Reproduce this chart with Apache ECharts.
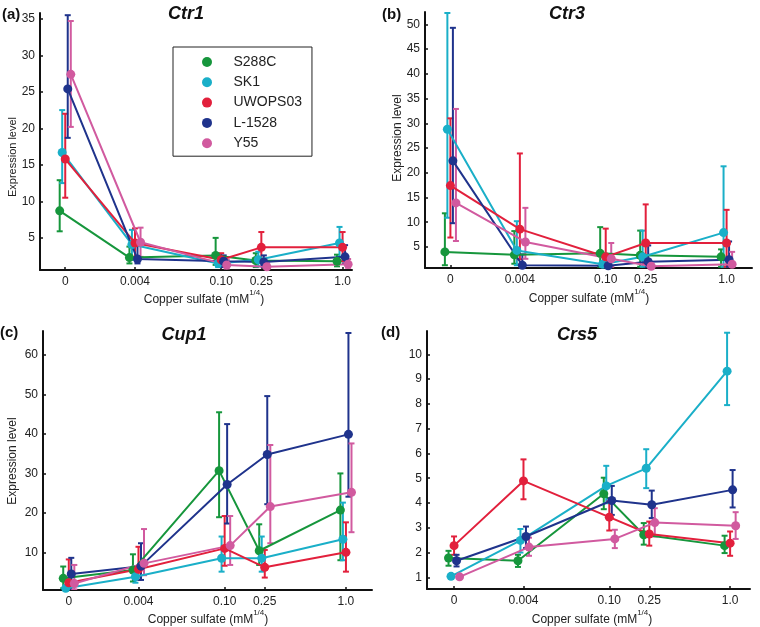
<!DOCTYPE html>
<html><head><meta charset="utf-8">
<script src="https://cdn.jsdelivr.net/npm/echarts@6/dist/echarts.min.js"></script>
<style>html,body{margin:0;padding:0;background:#fff}#c{width:760px;height:627px}</style>
</head><body><div id="c"></div>
<script>
// ---------- data ----------
const concentrations = [0, 0.004, 0.10, 0.25, 1.0];   // mM
const tickLabels = ['0', '0.004', '0.10', '0.25', '1.0'];
const strains = ['S288C', 'SK1', 'UWOPS03', 'L-1528', 'Y55'];
// each entry: [mean, lower, upper]
const ctr1_S288C   = [[8.7,5.9,12.9],[2.3,1.5,3.8],[2.6,1.3,5.0],[1.9,1.0,2.9],[1.8,1.1,2.7]];
const ctr1_SK1     = [[16.7,12.5,22.5],[4.1,2.0,6.1],[1.5,1.0,2.8],[2.0,1.1,3.1],[4.3,2.4,6.5]];
const ctr1_UWOPS03 = [[15.8,10.5,22.0],[4.3,2.4,6.3],[2.0,1.3,2.9],[3.7,1.8,5.8],[3.7,1.8,5.8]];
const ctr1_L1528   = [[25.4,18.7,35.5],[2.1,1.5,4.5],[1.8,1.0,2.6],[1.7,1.0,2.6],[2.4,1.5,4.0]];
const ctr1_Y55     = [[27.4,20.2,34.7],[4.4,2.4,6.4],[1.3,0.8,2.0],[1.05,0.8,1.5],[1.4,0.9,2.1]];

const ctr3_S288C   = [[4.0,1.3,11.8],[3.4,1.6,8.2],[3.7,1.0,9.0],[3.3,1.0,8.3],[3.0,1.0,4.5]];
const ctr3_SK1     = [[28.8,10.9,52.3],[4.3,1.3,10.2],[1.5,0.9,3.0],[3.0,1.0,8.3],[7.9,1.0,21.3]];
const ctr3_UWOPS03 = [[17.4,6.9,31.0],[8.6,2.5,23.9],[3.0,1.5,8.7],[5.8,1.7,13.6],[5.8,1.0,12.5]];
const ctr3_L1528   = [[22.4,9.8,49.3],[1.3,0.9,3.5],[1.2,0.9,3.0],[2.0,0.9,5.3],[2.4,1.0,6.1]];
const ctr3_Y55     = [[13.9,6.2,32.9],[6.0,2.6,12.9],[2.6,1.0,5.8],[1.1,0.9,1.6],[1.5,0.9,4.0]];

const cup1_S288C   = [[3.4,0.9,6.4],[5.5,2.6,9.5],[30.7,18.9,45.5],[10.4,6.8,17.1],[20.7,8.0,30.0]];
const cup1_SK1     = [[0.9,0.5,1.5],[3.8,2.3,6.5],[8.5,5.1,14.0],[8.5,5.1,14.0],[13.3,8.0,22.6]];
const cup1_UWOPS03 = [[2.3,0.6,8.2],[5.7,3.0,11.4],[11.0,6.6,19.2],[6.2,3.6,10.6],[10.0,5.1,17.6]];
const cup1_L1528   = [[4.5,0.5,8.6],[6.5,3.0,12.3],[27.2,17.3,42.5],[34.8,22.2,49.6],[39.9,24.1,65.6]];
const cup1_Y55     = [[2.1,0.6,6.8],[7.2,4.2,15.9],[11.7,6.8,19.2],[21.6,12.3,37.2],[25.2,15.1,37.6]];

const crs5_S288C   = [[1.78,1.47,2.07],[1.67,1.42,1.91],[4.37,3.75,5.02],[2.72,2.32,3.19],[2.28,1.98,2.68]];
const crs5_SK1     = [[1.04,0.95,1.13],[2.49,2.0,2.95],[4.69,3.99,5.5],[5.4,4.6,6.17],[9.32,7.95,10.87]];
const crs5_UWOPS03 = [[2.28,1.91,2.65],[4.89,4.15,5.76],[3.43,2.89,4.06],[2.75,2.28,3.25],[2.38,1.87,2.85]];
const crs5_L1528   = [[1.67,1.44,1.91],[2.65,2.18,3.05],[4.1,3.52,4.69],[3.93,3.39,4.5],[4.53,3.82,5.33]];
const crs5_Y55     = [[1.02,0.95,1.08],[2.22,1.87,2.6],[2.55,2.18,2.92],[3.21,2.65,3.79],[3.08,2.55,3.63]];

const ctr1Ticks = [5,10,15,20,25,30,35];
const ctr3Ticks = [5,10,15,20,25,30,35,40,45,50];
const cup1Ticks = [10,20,30,40,50,60];
const crs5Ticks = [1,2,3,4,5,6,7,8,9,10];

// ---------- layout / style ----------
const colors = ['#16963c', '#1aafc8', '#e2203c', '#1f338c', '#d15a9f'];
const dodge = [-0.02, -0.011, 0, 0.009, 0.02];
const FONT = 'Liberation Sans, Arial, sans-serif';
const xPos = concentrations.map(c => Math.pow(c, 0.25)); // axis in mM^(1/4)

const panels = [
  { title: 'Ctr1', letter: '(a)', data: [ctr1_S288C, ctr1_SK1, ctr1_UWOPS03, ctr1_L1528, ctr1_Y55], ticks: ctr1Ticks,
    grid: {left: 40, top: 13, width: 312, height: 257}, xr: [-0.091, 1.034], yr: [0.6, 35.8],
    titlePos: [186, 14], letterPos: [2, 15], xName: [204, 297], yName: [13, 157, 11] },
  { title: 'Ctr3', letter: '(b)', data: [ctr3_S288C, ctr3_SK1, ctr3_UWOPS03, ctr3_L1528, ctr3_Y55], ticks: ctr3Ticks,
    grid: {left: 425, top: 12, width: 327, height: 256}, xr: [-0.092, 1.092], yr: [0.74, 52.5],
    titlePos: [567, 14], letterPos: [382, 15], xName: [589, 296], yName: [398, 138, 12] },
  { title: 'Cup1', letter: '(c)', data: [cup1_S288C, cup1_SK1, cup1_UWOPS03, cup1_L1528, cup1_Y55], ticks: cup1Ticks,
    grid: {left: 43, top: 331, width: 329, height: 259}, xr: [-0.093, 1.094], yr: [0.45, 66.1],
    titlePos: [184, 335], letterPos: [0, 333], xName: [208, 617], yName: [13, 461, 12] },
  { title: 'Crs5', letter: '(d)', data: [crs5_S288C, crs5_SK1, crs5_UWOPS03, crs5_L1528, crs5_Y55], ticks: crs5Ticks,
    grid: {left: 427, top: 331, width: 323, height: 258}, xr: [-0.098, 1.072], yr: [0.53, 10.94],
    titlePos: [577, 335], letterPos: [381, 333], xName: [592, 617], yName: null }
];

function labelFor(v) {
  let best = 0;
  xPos.forEach((p, i) => { if (Math.abs(p - v) < Math.abs(xPos[best] - v)) best = i; });
  return tickLabels[best];
}

function errRender(params, api) {
  const x = api.value(0), lo = api.value(2), hi = api.value(3);
  const a = api.coord([x, lo]), b = api.coord([x, hi]);
  const w = 3;
  const style = {stroke: api.visual('color'), lineWidth: 2};
  return {type: 'group', children: [
    {type: 'line', shape: {x1: a[0], y1: a[1], x2: b[0], y2: b[1]}, style},
    {type: 'line', shape: {x1: b[0] - w, y1: b[1], x2: b[0] + w, y2: b[1]}, style},
    {type: 'line', shape: {x1: a[0] - w, y1: a[1], x2: a[0] + w, y2: a[1]}, style}
  ]};
}

const grids = [], xAxes = [], yAxes = [], series = [], graphics = [];
panels.forEach((p, pi) => {
  grids.push(p.grid);
  xAxes.push({
    type: 'value', gridIndex: pi, min: p.xr[0], max: p.xr[1],
    axisLine: {onZero: false, lineStyle: {color: '#111', width: 2}},
    axisTick: {show: true, inside: true, length: 3, customValues: xPos, lineStyle: {color: '#111', width: 1.5}},
    axisLabel: {customValues: xPos, formatter: labelFor, margin: 6, fontSize: 12, color: '#222', fontFamily: FONT},
    splitLine: {show: false}
  });
  yAxes.push({
    type: 'value', gridIndex: pi, min: p.yr[0], max: p.yr[1],
    axisLine: {show: true, onZero: false, lineStyle: {color: '#111', width: 2}},
    axisTick: {show: true, inside: true, length: 3, customValues: p.ticks, lineStyle: {color: '#111', width: 1.5}},
    axisLabel: {customValues: p.ticks, margin: 5, fontSize: 12, color: '#222', fontFamily: FONT},
    splitLine: {show: false}
  });
  strains.forEach((s, si) => {
    const vals = p.data[si];
    series.push({
      type: 'custom', name: s, xAxisIndex: pi, yAxisIndex: pi, clip: true, z: 2,
      itemStyle: {color: colors[si]},
      renderItem: errRender,
      data: vals.map((v, k) => [xPos[k] + dodge[si], v[0], v[1], v[2]]),
      encode: {x: 0, y: [2, 3]}
    });
  });
  strains.forEach((s, si) => {
    const vals = p.data[si];
    series.push({
      type: 'line', name: s, xAxisIndex: pi, yAxisIndex: pi, z: 3,
      symbol: 'circle', symbolSize: 9, showSymbol: true,
      itemStyle: {color: colors[si]}, lineStyle: {color: colors[si], width: 2},
      data: vals.map((v, k) => [xPos[k] + dodge[si], v[0]])
    });
  });
  graphics.push({type: 'text', x: p.titlePos[0], y: p.titlePos[1],
    style: {text: p.title, fontSize: 18, fontWeight: 'bold', fontStyle: 'italic', fontFamily: FONT,
            fill: '#111', align: 'center', verticalAlign: 'middle'}});
  graphics.push({type: 'text', x: p.letterPos[0], y: p.letterPos[1],
    style: {text: p.letter, fontSize: 15, fontWeight: 'bold', fontFamily: FONT,
            fill: '#111', align: 'left', verticalAlign: 'middle'}});
  graphics.push({type: 'text', x: p.xName[0], y: p.xName[1],
    style: {text: '{n|Copper sulfate (mM}{s|1/4}{n|)}', fontFamily: FONT, fill: '#222',
            align: 'center', verticalAlign: 'middle',
            rich: {
              n: {fontSize: 12, fontFamily: FONT, fill: '#222', lineHeight: 17, verticalAlign: 'bottom'},
              s: {fontSize: 8, fontFamily: FONT, fill: '#222', lineHeight: 9, verticalAlign: 'top'}
            }}});
  if (p.yName) {
    graphics.push({type: 'text', x: p.yName[0], y: p.yName[1], rotation: Math.PI / 2,
      style: {text: 'Expression level', fontSize: p.yName[2], fontFamily: FONT, fill: '#222',
              align: 'center', verticalAlign: 'middle'}});
  }
});

const chart = echarts.init(document.getElementById('c'), null, {renderer: 'canvas'});
chart.setOption({
  backgroundColor: '#fff',
  animation: false,
  grid: grids, xAxis: xAxes, yAxis: yAxes, series: series,
  legend: {
    data: strains, orient: 'vertical', left: 173, top: 47, icon: 'circle',
    itemWidth: 43, itemHeight: 10, itemGap: 6.3, padding: [8, 10, 6, 29],
    borderColor: '#222', borderWidth: 1, backgroundColor: '#fff', selectedMode: false,
    textStyle: {fontSize: 14, fontFamily: FONT, color: '#222', lineHeight: 14}
  },
  graphic: graphics
});
</script></body></html>
